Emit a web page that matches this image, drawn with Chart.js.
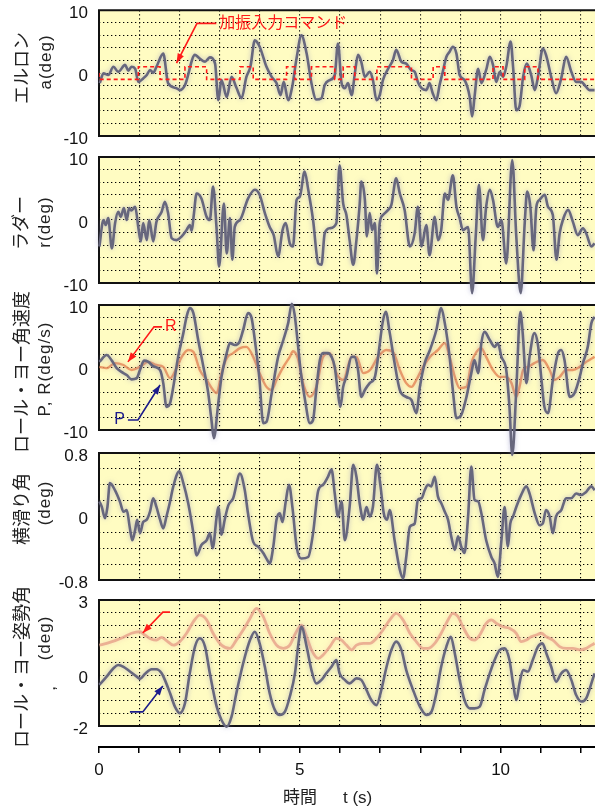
<!DOCTYPE html>
<html>
<head>
<meta charset="utf-8">
<script src="https://cdn.jsdelivr.net/npm/chart.js@4.4.1/dist/chart.umd.min.js"></script>
<style>
body { margin: 0; width: 595px; height: 806px; overflow: hidden; background: #fff; position: relative;
       font-family: "Liberation Sans", "Noto Sans CJK JP", sans-serif; }
canvas { position: absolute; left: 0; }
.lab { position: absolute; white-space: nowrap; font-size: 18px; color: #222; z-index: 10;
       transform: translate(-50%, -50%) rotate(-90deg); }
.lat { font-size: 17px; letter-spacing: 1px; }
#xtitle { position: absolute; left: 283px; top: 783px; font-size: 17px; color: #222; z-index: 10; white-space: nowrap; }
</style>
</head>
<body>
<canvas id="c1" width="595" height="151" style="top:0px;z-index:6"></canvas>
<canvas id="c2" width="595" height="159" style="top:142px;z-index:5"></canvas>
<canvas id="c3" width="595" height="172" style="top:290px;z-index:4"></canvas>
<canvas id="c4" width="595" height="157" style="top:438px;z-index:3"></canvas>
<canvas id="c5" width="595" height="153" style="top:585px;z-index:2"></canvas>
<canvas id="cx" width="595" height="80" style="top:730px;z-index:1"></canvas>

<div class="lab" style="left:20px;top:68px">エルロン</div>
<div class="lab lat" style="left:46px;top:62px">a(deg)</div>
<div class="lab" style="left:19px;top:223px">ラダー</div>
<div class="lab lat" style="left:45px;top:222px">r(deg)</div>
<div class="lab" style="left:20px;top:372px">ロール・ヨー角速度</div>
<div class="lab lat" style="left:45px;top:369px">P, R(deg/s)</div>
<div class="lab" style="left:20px;top:509px">横滑り角</div>
<div class="lab lat" style="left:45px;top:503px">(deg)</div>
<div class="lab" style="left:20px;top:667px">ロール・ヨー姿勢角</div>
<div class="lab lat" style="left:45px;top:638px">(deg)</div>
<div class="lab lat" style="left:50px;top:688px">,</div>
<div id="xtitle">時間<span style="margin-left:26px">t (s)</span></div>

<script>
// ================= TIME AXIS =================
const tMax = 12.35;
const tLabels = [0, 5, 10];

// ================= AILERON =================
const aileronT = [0.02,0.11,0.23,0.36,0.48,0.65,0.73,0.81,0.90,0.98,1.10,1.19,1.27,1.35,1.43,1.60,1.72,1.93,2.01,2.14,2.39,2.51,2.64,2.76,2.89,2.97,3.05,3.18,3.30,3.42,3.55,3.67,3.77,3.88,4.00,4.17,4.30,4.42,4.52,4.60,4.71,4.81,4.92,5.04,5.17,5.29,5.41,5.54,5.62,5.75,5.87,5.95,6.04,6.12,6.20,6.29,6.37,6.45,6.53,6.62,6.74,6.82,6.91,6.99,7.07,7.20,7.32,7.40,7.53,7.65,7.77,7.86,7.94,8.03,8.15,8.23,8.31,8.40,8.48,8.56,8.65,8.73,8.81,8.90,8.98,9.10,9.23,9.29,9.35,9.44,9.52,9.64,9.73,9.81,9.89,9.98,10.06,10.14,10.25,10.31,10.39,10.47,10.56,10.65,10.76,10.85,10.93,11.05,11.13,11.26,11.38,11.51,11.63,11.76,11.88,12.00,12.13,12.21,12.34];
const aileronV = [-1.6,-0.05,-0.3,1.0,0.2,1.3,0.4,1.0,0.7,-1.4,-0.85,-0.3,0.5,0.05,1.0,3.1,-1.6,-2.4,-2.7,-1.9,2.9,2.3,1.8,2.5,1.5,-4.3,-1.1,-3.8,-0.6,-2.3,-4.0,-0.6,1.0,5.2,4.2,1.0,-0.6,-1.6,-3.5,-1.4,-4.3,-2.2,2.4,6.0,3.1,-1.6,-4.2,-4.0,-1.9,-1.1,-0.3,4.7,-1.6,-2.4,-1.6,-3.5,-0.05,2.9,1.8,-0.6,0.2,-1.1,-4.3,-3.5,-1.1,0.7,2.1,3.7,1.8,1.5,0.5,0.2,-1.4,-2.4,-2.7,-1.6,-3.2,-4.3,-1.9,0.2,2.6,3.4,4.2,3.1,-0.3,-1.1,-3.8,-6.9,-3.8,0.7,-1.6,0.5,2.6,1.3,-1.4,0.2,-0.6,1.0,5.0,1.0,-5.9,-5.3,-0.6,1.5,-0.3,-2.7,-0.6,3.9,2.9,-0.6,-3.2,-0.8,2.6,0.2,-1.4,-1.4,-2.2,-2.7,-2.7];
const cmdT = [0,0.98,1.52,2.14,2.68,3.51,3.84,4.67,4.88,5.29,5.87,6.08,6.37,6.92,7.78,8.32,8.61,9.81,10.06,10.60,10.93,12.09,12.35];
const cmdV = [0,-1,1,-1,1,-1,1,-1,1,-1,1,-1,1,-1,1,-1,1,-1,1,-1,1,-1,-1];

// ================= RUDDER =================
const rudderT = [0.01,0.11,0.17,0.23,0.32,0.40,0.48,0.54,0.62,0.69,0.75,0.81,0.90,0.98,1.04,1.10,1.19,1.25,1.35,1.43,1.56,1.64,1.72,1.81,1.93,2.06,2.18,2.26,2.31,2.36,2.43,2.55,2.68,2.76,2.84,2.93,2.99,3.11,3.18,3.26,3.32,3.38,3.51,3.71,3.88,4.00,4.13,4.25,4.35,4.46,4.57,4.65,4.75,4.83,4.92,5.00,5.12,5.21,5.33,5.46,5.54,5.62,5.75,5.91,5.99,6.08,6.16,6.24,6.33,6.41,6.49,6.53,6.62,6.67,6.74,6.80,6.87,6.92,6.99,7.07,7.20,7.28,7.40,7.49,7.61,7.74,7.86,7.94,8.03,8.15,8.23,8.36,8.44,8.52,8.61,8.69,8.81,8.90,8.98,9.06,9.19,9.29,9.38,9.46,9.56,9.64,9.73,9.81,9.93,10.02,10.14,10.29,10.39,10.50,10.60,10.66,10.74,10.82,10.89,10.97,11.10,11.18,11.30,11.39,11.47,11.55,11.68,11.80,11.92,12.05,12.13,12.26,12.34];
const rudderV = [-4.2,0,-0.8,0.3,-4.5,-0.5,1.3,0.5,1.9,0,1.9,1.5,2.1,-1.2,-3.4,-0.5,-3.2,0,-3.4,-0.3,1.3,2.9,1.1,-2.9,-3.2,-2.6,-1.6,-0.8,-1.7,0.8,4.2,3.4,0.5,0,5.3,-1.6,-7.4,2.6,-5.3,0.3,-6.3,-1.1,0,3.4,4.8,4.0,1.1,-1.1,-2.4,-5.8,-1.6,-0.5,-3.7,-4.2,3.2,3.7,7.7,4.8,0,-6.9,-7.1,-2.1,-1.3,-0.5,8.7,2.6,0.8,-3.2,-7.1,-3.2,2.4,6.1,3.2,-2.6,1.1,-1.6,-0.5,-8.5,-0.5,0.8,1.6,2.4,6.6,4.2,1.6,-4.2,-2.1,2.1,-4.2,-0.8,-5.6,0.5,-3.2,-1.6,4.2,3.2,7.1,2.1,0.3,-1.6,-1.1,-11.6,-2.6,5.6,-3.2,2.1,4.8,3.2,-1.1,0,-6.9,9.5,-2.6,-11.6,-0.5,4.5,2.1,-4.8,2.1,3.2,4.0,2.1,0.8,-6.3,-2.1,0,1.6,-0.3,-2.4,-1.3,-2.1,-4.2,-3.7];

// ================= ROLL / YAW RATE =================
const pRateT = [0.01,0.19,0.32,0.44,0.56,0.69,0.81,0.94,1.02,1.12,1.23,1.35,1.52,1.60,1.68,1.77,1.85,1.97,2.10,2.18,2.26,2.35,2.47,2.60,2.72,2.80,2.86,2.97,3.05,3.18,3.26,3.38,3.49,3.59,3.71,3.80,3.88,3.99,4.09,4.17,4.30,4.46,4.59,4.71,4.80,4.87,4.94,5.02,5.13,5.25,5.33,5.41,5.50,5.58,5.70,5.79,5.87,5.95,6.01,6.08,6.16,6.29,6.37,6.45,6.53,6.62,6.74,6.87,6.95,7.06,7.14,7.24,7.36,7.49,7.65,7.78,7.90,7.99,8.11,8.24,8.40,8.52,8.61,8.73,8.81,8.90,9.02,9.15,9.27,9.35,9.44,9.52,9.60,9.73,9.85,9.93,10.02,10.14,10.22,10.29,10.39,10.49,10.55,10.64,10.72,10.84,10.93,11.01,11.09,11.18,11.30,11.43,11.51,11.59,11.72,11.84,11.97,12.05,12.17,12.26,12.34];
const pRateV = [0.9,2.0,1.1,-0.1,-0.7,-1.2,-1.9,-1.7,-0.4,1.1,0.9,0.2,-0.4,-2.5,-6.3,-5.7,-3.1,1.7,5.5,8.1,9.5,8.7,4.4,0.1,-4.1,-8.4,-11.3,-5.7,-1.5,2.3,3.9,3.6,4.0,6.0,8.7,7.9,4.4,-1.5,-8.9,-8.7,-4.1,1.7,4.4,7.1,10.2,8.5,4.5,-0.5,-5.2,-8.9,-8.4,-3.6,1.2,2.3,2.3,1.7,0.1,-4.1,-6.3,-3.1,-1.5,1.7,1.7,-0.4,-4.7,-3.6,-2.5,-1.5,1.7,7.1,8.9,5.5,0.7,-3.6,-4.7,-5.2,-7.3,-3.1,0.7,2.8,6.0,9.5,7.1,1.7,-3.6,-8.1,-7.6,-4.7,-0.9,1.2,-0.9,3.9,5.7,4.4,3.3,3.9,1.7,-0.4,-6.3,-14.0,-3.6,8.9,5.5,-2.5,1.7,5.5,3.6,-1.5,-6.3,-7.3,-2.0,2.3,2.8,1.2,-4.7,-4.1,-1.5,0.7,3.3,7.1,8.1];
const rRateT = [0.01,0.19,0.40,0.61,0.81,1.02,1.23,1.43,1.60,1.77,1.93,2.06,2.22,2.35,2.51,2.68,2.84,2.93,3.05,3.18,3.34,3.51,3.67,3.84,4.00,4.17,4.30,4.42,4.59,4.75,4.83,4.95,5.08,5.25,5.41,5.58,5.75,5.91,6.08,6.29,6.41,6.58,6.75,6.95,7.15,7.32,7.49,7.65,7.78,7.90,8.07,8.24,8.44,8.61,8.73,8.86,8.98,9.15,9.27,9.40,9.52,9.64,9.81,9.98,10.14,10.27,10.39,10.47,10.56,10.68,10.84,11.05,11.22,11.34,11.47,11.63,11.80,11.97,12.13,12.34];
const rRateV = [0.1,-0.1,0.7,0.4,-0.4,0.1,0.9,0.4,0.1,-1.7,-0.1,1.7,2.8,2.5,-0.4,-2.0,-3.6,-4.1,-0.9,1.5,2.3,3.1,3.3,1.7,-0.9,-3.1,-3.6,-2.0,0.1,1.7,2.6,1.5,-2.5,-4.7,-3.1,1.7,2.3,-0.9,-2.0,1.7,1.7,-0.9,-0.4,1.7,2.8,2.5,-0.4,-2.5,-3.1,-2.0,0.1,1.7,2.8,3.9,1.7,-1.5,-3.3,-3.1,0.7,2.5,3.1,1.7,-0.4,-1.5,-1.5,-2.5,-4.7,-3.1,-0.4,0.1,0.7,1.2,-0.4,-2.0,-1.5,-0.4,-0.4,0.1,0.9,1.7];

// ================= SIDESLIP =================
const betaT = [0.01,0.07,0.15,0.21,0.27,0.40,0.52,0.61,0.69,0.77,0.83,0.90,0.95,1.02,1.10,1.19,1.27,1.35,1.43,1.52,1.60,1.68,1.77,1.85,2.00,2.10,2.22,2.35,2.43,2.55,2.68,2.76,2.83,2.93,2.97,3.05,3.13,3.22,3.34,3.51,3.63,3.71,3.84,3.96,4.09,4.17,4.25,4.34,4.42,4.50,4.57,4.65,4.73,4.82,4.92,5.04,5.21,5.33,5.46,5.58,5.70,5.79,5.87,5.95,6.04,6.12,6.24,6.33,6.41,6.49,6.58,6.66,6.74,6.82,6.92,7.01,7.09,7.17,7.24,7.36,7.49,7.57,7.65,7.74,7.86,7.94,8.03,8.11,8.19,8.27,8.36,8.44,8.52,8.61,8.69,8.77,8.86,8.94,9.02,9.10,9.19,9.27,9.35,9.44,9.52,9.64,9.77,9.85,9.93,10.02,10.10,10.18,10.24,10.31,10.39,10.51,10.64,10.72,10.85,10.97,11.05,11.13,11.22,11.30,11.38,11.51,11.63,11.76,11.88,12.00,12.13,12.26,12.34];
const betaV = [0.19,0.12,-0.02,0.12,0.42,0.33,0.19,0.06,0.08,-0.15,-0.30,-0.17,-0.04,-0.21,-0.07,-0.04,0.06,0.23,0.12,-0.04,-0.15,0,0.19,0.38,0.57,0.42,0.17,-0.21,-0.49,-0.36,-0.30,-0.21,-0.40,0,0.12,-0.23,-0.04,0.14,0.23,0.54,0.33,0.04,-0.32,-0.38,-0.46,-0.53,-0.59,-0.38,-0.04,0.04,-0.07,0.19,0.40,0.10,-0.38,-0.53,-0.51,-0.21,0.33,0.40,0.50,0.59,0.29,0,0.19,-0.30,0.12,0.65,0.50,0.17,-0.04,0.12,0,0.12,0.65,0.38,0.04,-0.04,0.08,-0.30,-0.67,-0.78,-0.51,-0.13,-0.09,0.21,0.23,0.33,0.40,0.38,0.50,0.25,0.17,0.06,-0.04,-0.25,-0.42,-0.25,-0.38,-0.46,0,0.63,0.21,0.19,0.04,-0.30,-0.51,-0.59,-0.76,-0.30,0.12,-0.38,-0.09,0,0.12,0.27,0.38,0.29,0.04,-0.11,-0.09,0.08,0,-0.21,0,0.08,0.23,0.23,0.29,0.27,0.31,0.38,0.33];

// ================= ROLL / YAW ATTITUDE =================
const phiT = [0.01,0.19,0.36,0.48,0.61,0.77,0.94,1.02,1.14,1.31,1.43,1.56,1.64,1.77,1.89,2.01,2.14,2.26,2.39,2.51,2.64,2.76,2.93,3.05,3.18,3.30,3.42,3.59,3.76,3.88,4.00,4.13,4.25,4.38,4.50,4.63,4.75,4.88,4.96,5.04,5.17,5.29,5.41,5.54,5.66,5.79,5.91,5.99,6.12,6.24,6.41,6.53,6.66,6.78,6.91,7.03,7.16,7.28,7.40,7.53,7.65,7.82,7.99,8.15,8.28,8.40,8.52,8.65,8.76,8.86,8.98,9.10,9.23,9.35,9.48,9.60,9.73,9.85,9.98,10.10,10.22,10.31,10.39,10.47,10.56,10.68,10.80,10.93,11.04,11.14,11.26,11.38,11.51,11.63,11.76,11.88,12.01,12.13,12.26,12.34];
const phiV = [-0.37,-0.04,0.29,0.42,0.35,0.16,-0.04,-0.13,0.06,0.25,0.25,0.09,-0.17,-0.70,-1.23,-1.49,-1.10,0.09,1.15,1.48,1.15,0.09,-1.23,-1.76,-2.03,-1.63,-0.70,0.49,1.41,1.74,1.28,0.35,-0.70,-1.37,-1.56,-1.43,-0.84,0.10,1.20,1.94,1.15,0.22,-0.31,-0.17,0.09,0.35,0.62,0.09,-0.17,-0.31,-0.11,-0.17,-0.57,-0.97,-1.17,-0.57,0.35,1.02,1.35,1.02,0.22,-0.57,-1.23,-1.56,-1.43,-0.70,0.35,1.15,1.54,0.88,-0.17,-0.97,-1.30,-1.30,-1.23,-0.57,0.09,0.62,1.02,1.08,0.62,-0.31,-0.97,-0.31,0.22,0.16,0.62,1.15,1.28,0.88,0.35,-0.24,0.09,0.22,-0.17,-0.77,-1.03,-0.90,-0.31,0.09];
const psiT = [0.01,0.19,0.40,0.61,0.81,1.02,1.14,1.31,1.43,1.56,1.68,1.85,2.01,2.18,2.35,2.51,2.68,2.84,3.05,3.26,3.42,3.59,3.76,3.92,4.09,4.25,4.42,4.59,4.75,4.90,5.04,5.17,5.29,5.46,5.58,5.75,5.91,6.04,6.16,6.29,6.41,6.58,6.74,6.91,7.07,7.24,7.40,7.57,7.74,7.90,8.07,8.19,8.36,8.52,8.69,8.81,8.94,9.06,9.23,9.35,9.48,9.64,9.77,9.90,10.06,10.22,10.39,10.51,10.64,10.76,10.89,11.01,11.14,11.30,11.47,11.63,11.80,11.97,12.13,12.26,12.34];
const psiV = [1.21,1.28,1.39,1.52,1.68,1.74,1.61,1.44,1.41,1.52,1.39,1.21,1.35,1.68,2.14,2.40,2.21,1.68,1.21,1.08,1.41,1.81,2.27,2.67,2.34,1.68,1.21,1.08,1.21,1.70,2.00,1.54,1.02,0.68,0.82,1.15,1.48,1.41,1.21,1.02,1.21,1.28,1.28,1.48,1.81,2.21,2.47,2.21,1.68,1.35,1.08,1.08,1.28,1.68,2.21,2.47,2.34,1.94,1.48,1.41,1.61,2.07,2.21,2.07,1.94,1.88,1.68,1.35,1.41,1.54,1.61,1.68,1.54,1.41,1.15,1.08,1.08,1.02,1.08,1.21,1.28];

// ================= ANNOTATIONS (data units) =================
const cmdNote = [{ text: '加振入力コマンド', color: '#ff1a1a', tip: [1.93, 1.6], bend: [2.44, 7.9], end: [2.92, 7.9], align: 'left' }];
const rateNotes = [
    { text: 'R', color: '#ff1a1a', tip: [0.72, 0.9], bend: [1.37, 6.5], end: [1.57, 6.5], align: 'left' },
    { text: 'P', color: '#1c1c8c', tip: [1.52, -2.8], bend: [0.97, -8.4], end: [0.72, -8.4], align: 'right' }
];
const attNotes = [
    { text: '', color: '#ff1a1a', tip: [1.09, 1.69], bend: [1.59, 2.52], end: [1.77, 2.52] },
    { text: '', color: '#1c1c8c', tip: [1.59, -0.41], bend: [1.09, -1.44], end: [0.77, -1.44] }
];

const zip = (ts, vs) => ts.map((t, i) => ({ x: t, y: vs[i] }));

// yellow plot area with black frame on top, left and bottom
const frame = {
    id: 'frame',
    beforeDraw(c) {
        const a = c.chartArea, ctx = c.ctx;
        ctx.save();
        ctx.fillStyle = '#fffcc2';
        ctx.fillRect(a.left, a.top, a.right - a.left, a.bottom - a.top);
        ctx.restore();
    },
    beforeDatasetsDraw(c) {
        const a = c.chartArea, ctx = c.ctx;
        ctx.save();
        ctx.strokeStyle = '#111';
        ctx.lineWidth = 2;
        ctx.beginPath();
        ctx.moveTo(a.right, a.top); ctx.lineTo(a.left, a.top);
        ctx.lineTo(a.left, a.bottom); ctx.lineTo(a.right, a.bottom);
        ctx.stroke();
        ctx.restore();
    }
};

// soft halo round the traces
const glow = {
    id: 'glow',
    beforeDatasetDraw(c, args) {
        const ds = c.data.datasets[args.index];
        c.ctx.save();
        if (ds.glow) { c.ctx.shadowColor = ds.glow; c.ctx.shadowBlur = 5; }
    },
    afterDatasetDraw(c) { c.ctx.restore(); }
};

function notes(items) {
    return {
        id: 'notes',
        afterDatasetsDraw(c) {
            const ctx = c.ctx, sx = c.scales.x, sy = c.scales.y;
            const px = p => [sx.getPixelForValue(p[0]), sy.getPixelForValue(p[1])];
            items.forEach(n => {
                const [ex, ey] = px(n.end), [bx, by] = px(n.bend), [tx, ty] = px(n.tip);
                ctx.save();
                ctx.strokeStyle = n.color; ctx.fillStyle = n.color; ctx.lineWidth = 1.6;
                ctx.beginPath(); ctx.moveTo(ex, ey); ctx.lineTo(bx, by); ctx.lineTo(tx, ty); ctx.stroke();
                const ang = Math.atan2(ty - by, tx - bx);
                ctx.beginPath();
                ctx.moveTo(tx, ty);
                ctx.lineTo(tx - 10 * Math.cos(ang - 0.35), ty - 10 * Math.sin(ang - 0.35));
                ctx.lineTo(tx - 10 * Math.cos(ang + 0.35), ty - 10 * Math.sin(ang + 0.35));
                ctx.closePath(); ctx.fill();
                if (n.text) {
                    ctx.font = '16px "Liberation Sans", "Noto Sans CJK JP"';
                    ctx.textBaseline = 'middle';
                    ctx.textAlign = n.align;
                    ctx.fillText(n.text, ex + (n.align === 'left' ? 3 : -3), ey);
                }
                ctx.restore();
            });
        }
    };
}

const dotted = [1.3, 2.7];

function panel(id, padTop, padBottom, ymin, ymax, ystep, ylabels, datasets, items) {
    new Chart(document.getElementById(id), {
        type: 'line',
        data: { datasets: datasets },
        plugins: [frame, glow, notes(items)],
        options: {
            responsive: false,
            animation: false,
            layout: { padding: { top: padTop, bottom: padBottom, left: 0, right: 0 } },
            plugins: { legend: { display: false }, tooltip: { enabled: false } },
            elements: { point: { radius: 0 }, line: { cubicInterpolationMode: 'monotone' } },
            scales: {
                x: {
                    type: 'linear', min: 0, max: tMax,
                    ticks: { display: false, stepSize: 1, includeBounds: false },
                    grid: { color: '#000', lineWidth: 1.1, drawTicks: false },
                    border: { display: false, dash: dotted }
                },
                y: {
                    min: ymin, max: ymax,
                    afterFit: s => { s.width = 99; },
                    ticks: {
                        stepSize: ystep, autoSkip: false, padding: 0, labelOffset: 3,
                        color: '#111', font: { family: 'Liberation Sans', size: 17 },
                        callback: v => {
                            const l = ylabels.find(q => Math.abs(q - v) < 1e-6);
                            return l === undefined ? '' : String(l);
                        }
                    },
                    grid: { color: '#000', lineWidth: 1.1, drawTicks: true, tickLength: 11, tickColor: 'rgba(0,0,0,0)' },
                    border: { display: false, dash: dotted }
                }
            }
        }
    });
}

const darkLine = { borderColor: '#67677d', borderWidth: 2.6, glow: 'rgba(140,140,190,0.55)', clip: false };

// ================= PANELS =================
panel('c1', 10, 15, -10, 10, 2, [10, 0, -10], [
    { data: zip(cmdT, cmdV), stepped: 'after', borderColor: '#ff1a1a', borderWidth: 1.6, borderDash: [4, 3] },
    Object.assign({ data: zip(aileronT, aileronV) }, darkLine)
], cmdNote);

panel('c2', 15, 18, -10, 10, 2, [10, 0, -10], [
    Object.assign({ data: zip(rudderT, rudderV) }, darkLine)
], []);

panel('c3', 15, 32, -10, 10, 2, [10, 0, -10], [
    Object.assign({ data: zip(pRateT, pRateV) }, darkLine),
    { data: zip(rRateT, rRateV), borderColor: 'rgba(230,140,90,0.85)', borderWidth: 2.4, glow: 'rgba(240,170,120,0.6)' }
], rateNotes);

panel('c4', 15, 15, -0.8, 0.8, 0.2, [0.8, 0, -0.8], [
    Object.assign({ data: zip(betaT, betaV) }, darkLine)
], []);

panel('c5', 15, 12, -2, 3, 0.5, [3, 0, -2], [
    Object.assign({ data: zip(phiT, phiV) }, darkLine),
    { data: zip(psiT, psiV), borderColor: 'rgba(232,165,140,0.85)', borderWidth: 2.8, glow: 'rgba(240,190,170,0.6)' }
], attNotes);

// ================= TIME AXIS =================
new Chart(document.getElementById('cx'), {
    type: 'line',
    data: { datasets: [] },
    options: {
        responsive: false,
        animation: false,
        layout: { padding: { left: 99, right: 0, top: 0, bottom: 0 } },
        plugins: { legend: { display: false }, tooltip: { enabled: false } },
        scales: {
            x: {
                type: 'linear', position: 'bottom', min: 0, max: tMax,
                afterFit: s => { s.height = 63; },
                ticks: {
                    stepSize: 1, includeBounds: false, autoSkip: false, maxRotation: 0, padding: 7,
                    color: '#111', font: { family: 'Liberation Sans', size: 17 },
                    callback: v => tLabels.includes(v) ? String(v) : ''
                },
                grid: { drawOnChartArea: false, drawTicks: true, tickLength: 6, color: '#000', lineWidth: 1.5 },
                border: { display: true, color: '#000', width: 2 }
            },
            y: { display: false, min: 0, max: 1 }
        }
    }
});
</script>
</body>
</html>
